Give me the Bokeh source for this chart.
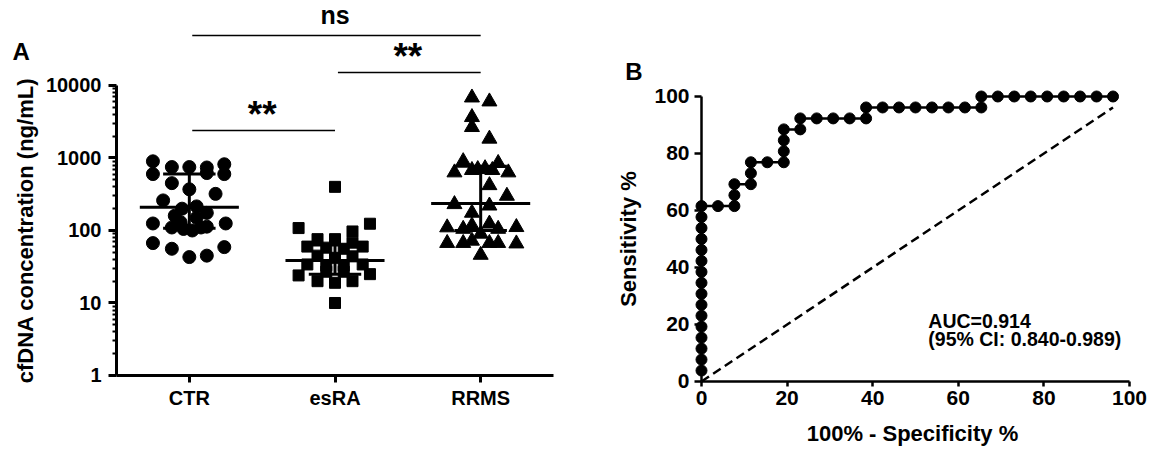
from bokeh.plotting import figure
from bokeh.layouts import row
from bokeh.models import FixedTicker, Label, Range1d
from bokeh.embed import file_html
from bokeh.resources import INLINE

# ---------------- data ----------------
categories = ["CTR", "esRA", "RRMS"]

ctr_values = [900, 750, 750, 740, 820, 600, 620, 600, 450, 370, 320, 260,
              200, 215, 175, 160, 150, 130,
              125, 110, 105, 100, 110, 113, 125, 67, 56, 43, 45, 59]
ctr_jitter = [-0.25, -0.12, 0.0, 0.12, 0.24, -0.25, 0.12, 0.24, -0.12, 0.0, 0.18, -0.18,
              -0.05, 0.05, 0.12, -0.1, 0.05, -0.06,
              -0.25, -0.12, -0.04, 0.02, 0.08, 0.12, 0.25, -0.25, -0.12, 0.0, 0.12, 0.24]

esra_values = [400, 108, 97, 124, 76, 76, 68, 60, 58, 56, 60, 45, 42, 44,
               34, 33, 33, 34, 24, 25, 27, 27, 20, 19, 20, 10]
esra_jitter = [0.0, -0.25, 0.12, 0.24, -0.12, 0.0, 0.12, -0.19, -0.06, 0.06, 0.19, -0.12, 0.0, 0.12,
               -0.19, -0.06, 0.06, 0.19, -0.25, 0.24, -0.06, 0.06, -0.12, 0.0, 0.12, 0.0]

rrms_values = [6800, 6000, 3650, 2660, 1840, 900, 850, 630, 680, 700, 720, 680, 630,
               420, 300, 230, 220, 175, 110, 105, 117, 124, 105, 111, 90,
               67, 67, 72, 67, 67, 66, 46]
rrms_jitter = [-0.06, 0.06, -0.06, -0.06, 0.06, -0.12, 0.12, -0.18, -0.06, -0.02, 0.03, 0.08, 0.19,
               0.06, 0.18, -0.18, 0.06, -0.06, -0.23, -0.12, -0.06, 0.06, 0.12, 0.245, 0.0,
               -0.23, -0.12, -0.06, 0.06, 0.12, 0.245, 0.0]

group_median = [209, 38.5, 235]
group_q1 = [107, 25, 100]
group_q3 = [600, 63, 770]

# significance comparisons: (group a, group b, label, bar height)
sig_from = [1, 2, 1]
sig_to = [3, 3, 2]
sig_text = ["ns", "**", "**"]
sig_height = [49000, 15100, 2390]

# ROC curve (percent)
roc_fpr = [0] * 16 + [3.85, 7.69, 7.69, 7.69, 11.54, 11.54, 11.54, 15.38, 19.23, 19.23, 19.23, 19.23,
                      23.08, 23.08, 26.92, 30.77, 34.62, 38.46, 38.46, 42.31, 46.15, 50.0, 53.85,
                      57.69, 61.54, 65.38, 65.38, 69.23, 73.08, 76.92, 80.77, 84.62, 88.46, 92.31, 96.15]
roc_tpr = [3.85, 7.69, 11.54, 15.38, 19.23, 23.08, 26.92, 30.77, 34.62, 38.46, 42.31, 46.15,
           50.0, 53.85, 57.69, 61.54] + \
          [61.54, 61.54, 65.38, 69.23, 69.23, 73.08, 76.92, 76.92, 76.92, 80.77, 84.62, 88.46,
           88.46, 92.31, 92.31, 92.31, 92.31, 92.31, 96.15, 96.15, 96.15, 96.15, 96.15,
           96.15, 96.15, 96.15, 100, 100, 100, 100, 100, 100, 100, 100, 100]
auc_text = ["AUC=0.914", "(95% CI: 0.840-0.989)"]

FONT = "Liberation Sans"


def style_axis(ax, line_w, lab_size, title_size):
    ax.axis_line_width = line_w
    ax.major_tick_line_width = line_w
    ax.major_tick_in = 0
    ax.minor_tick_in = 0
    ax.major_label_text_font = FONT
    ax.major_label_text_font_style = "bold"
    ax.major_label_text_font_size = lab_size
    ax.major_label_text_color = "black"
    ax.axis_label_text_font = FONT
    ax.axis_label_text_font_style = "bold"
    ax.axis_label_text_font_size = title_size
    ax.axis_label_text_color = "black"


# ---------------- panel A ----------------
pA = figure(output_backend="svg", toolbar_location=None, y_axis_type="log",
            width=570, height=449,
            x_range=Range1d(-0.2963, 3.6166), y_range=Range1d(0.09535, 148700),
            min_border=0)
pA.outline_line_color = None
pA.xgrid.visible = False
pA.ygrid.visible = False

major = [1, 10, 100, 1000, 10000]
minor = [m * d for d in [1, 10, 100, 1000] for m in range(2, 10)]
pA.yaxis.ticker = FixedTicker(ticks=major, minor_ticks=minor)
pA.yaxis.bounds = (1, 10000)
pA.yaxis.fixed_location = 0.5
pA.yaxis.major_label_overrides = {v: str(v) for v in major}
pA.xaxis.ticker = FixedTicker(ticks=[1, 2, 3])
pA.xaxis.bounds = (0.5, 3.5)
pA.xaxis.fixed_location = 1
pA.xaxis.major_label_overrides = {i + 1: c for i, c in enumerate(categories)}
pA.yaxis.axis_label = "cfDNA concentration (ng/mL)"

style_axis(pA.xaxis[0], 3, "20px", "22px")
style_axis(pA.yaxis[0], 3, "20px", "22px")
pA.yaxis.major_tick_out = 8
pA.yaxis.minor_tick_out = 4
pA.yaxis.minor_tick_line_width = 2
pA.xaxis.minor_tick_line_color = None
pA.xaxis.major_tick_out = 7
pA.xaxis.major_label_standoff = 5
pA.yaxis.major_label_standoff = 7
pA.yaxis.axis_label_standoff = 5

groups = [(ctr_values, ctr_jitter, "circle", 13),
          (esra_values, esra_jitter, "square", 11),
          (rrms_values, rrms_jitter, "triangle", 15)]
for i, (vals, jit, marker, size) in enumerate(groups):
    xs = [i + 1 + j for j in jit]
    pA.scatter(xs, vals, marker=marker, size=size, color="black")

xc = [i + 1 for i in range(len(categories))]
pA.segment(x0=[x - 0.34 for x in xc], x1=[x + 0.34 for x in xc], y0=group_median, y1=group_median,
           line_width=3, color="black")
pA.segment(x0=xc, x1=xc, y0=group_q1, y1=group_q3, line_width=3, color="black")
pA.segment(x0=[x - 0.18 for x in xc], x1=[x + 0.18 for x in xc], y0=group_q1, y1=group_q1,
           line_width=3, color="black")
pA.segment(x0=[x - 0.18 for x in xc], x1=[x + 0.18 for x in xc], y0=group_q3, y1=group_q3,
           line_width=3, color="black")

pA.segment(x0=[a + 0.02 for a in sig_from], x1=sig_to, y0=sig_height, y1=sig_height,
           line_width=1.6, color="black")
for a, b, t, h in zip(sig_from, sig_to, sig_text, sig_height):
    if t == "ns":
        lab = Label(x=(a + b) / 2, y=h * 1.21, text=t, text_align="center", text_font=FONT,
                    text_font_style="bold", text_font_size="25px", text_color="black")
    else:
        lab = Label(x=(a + b) / 2, y=h * 0.86, text=t, text_align="center", text_font=FONT,
                    text_font_style="bold", text_font_size="37px", text_color="black")
    pA.add_layout(lab)

pA.add_layout(Label(x=-0.214, y=18900, text="A", text_font=FONT, text_font_style="bold",
                    text_font_size="24px", text_color="black"))

# ---------------- panel B ----------------
pB = figure(output_backend="svg", toolbar_location=None,
            width=581, height=449,
            x_range=Range1d(-30.607, 105.14), y_range=Range1d(-23.86, 133.68),
            min_border=0)
pB.outline_line_color = None
pB.xgrid.visible = False
pB.ygrid.visible = False
ticks = [0, 20, 40, 60, 80, 100]
pB.xaxis.ticker = FixedTicker(ticks=ticks)
pB.yaxis.ticker = FixedTicker(ticks=ticks)
pB.xaxis.bounds = (0, 100)
pB.yaxis.bounds = (0, 100)
pB.xaxis.fixed_location = 0
pB.yaxis.fixed_location = 0
pB.xaxis.axis_label = "100%  - Specificity %"
pB.yaxis.axis_label = "Sensitivity %"
style_axis(pB.xaxis[0], 2.5, "21px", "22px")
style_axis(pB.yaxis[0], 2.5, "21px", "22px")
pB.xaxis.minor_tick_line_color = None
pB.yaxis.minor_tick_line_color = None
pB.yaxis.major_tick_out = 7
pB.xaxis.major_tick_out = 5
pB.xaxis.major_label_standoff = 5
pB.xaxis.axis_label_standoff = 12
pB.yaxis.major_label_standoff = 5
pB.yaxis.axis_label_standoff = 10

diag_end = max(roc_fpr)
pB.line([0, diag_end], [0, diag_end], line_dash="9 5", line_width=2.5, color="black")
pB.line(roc_fpr, roc_tpr, line_width=2.5, color="black")
pB.scatter(roc_fpr, roc_tpr, marker="circle", size=11, color="black")

pB.add_layout(Label(x=53.0, y=17.2, text=auc_text[0], text_font=FONT, text_font_style="bold",
                    text_font_size="19.5px", text_color="black"))
pB.add_layout(Label(x=53.0, y=11.0, text=auc_text[1], text_font=FONT, text_font_style="bold",
                    text_font_size="19.5px", text_color="black"))
pB.add_layout(Label(x=-17.8, y=103.9, text="B", text_font=FONT, text_font_style="bold",
                    text_font_size="24px", text_color="black"))

layout = row(pA, pB)
open("out.html", "w").write(file_html(layout, INLINE))
